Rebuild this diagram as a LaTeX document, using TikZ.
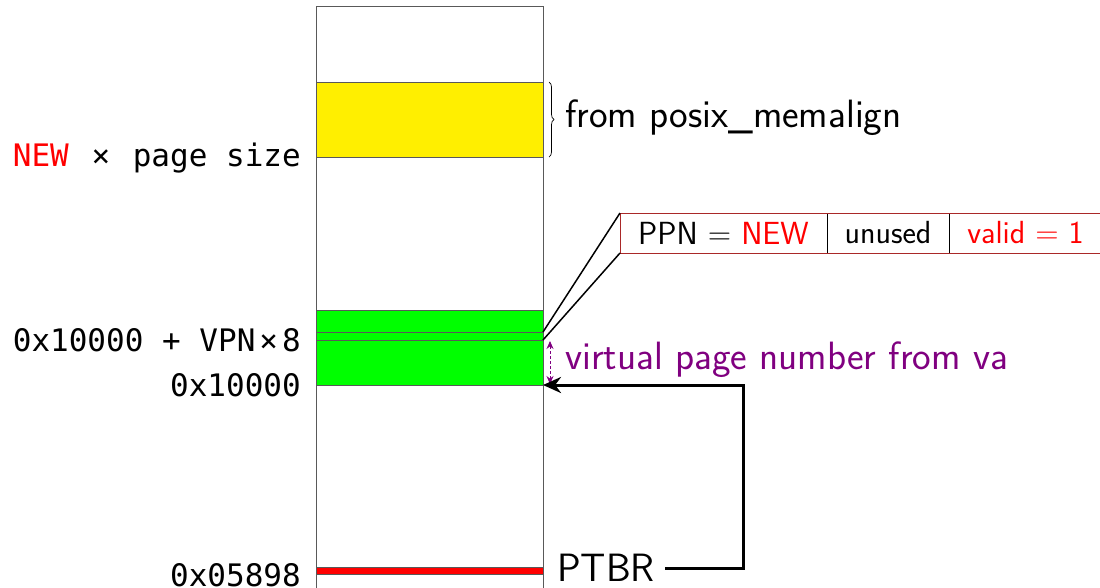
\documentclass[tikz,border=0pt]{standalone}
\usepackage{fontspec}
\setmonofont{DejaVu Sans Mono}
\usetikzlibrary{decorations.pathreplacing,arrows.meta}
\definecolor{heapyellow}{RGB}{255,239,0}
\definecolor{ptgreen}{RGB}{0,255,0}
\definecolor{vpurple}{RGB}{128,0,128}
\definecolor{pteborder}{RGB}{170,40,40}
\newcommand{\mtimes}{\kern4pt×\kern4pt}
\begin{document}
\begin{tikzpicture}[x=1pt,y=-1pt,
  memline/.style={draw=black!65, line width=0.9pt},
  region/.style={draw=black!65, line width=0.9pt, inner sep=0pt, outer sep=0pt,
                 minimum width=227pt, anchor=north west},
  addr/.style={anchor=base east, inner sep=0pt, font=\fontsize{31}{31}\selectfont\ttfamily},
  bigsans/.style={inner sep=0pt, font=\fontsize{39.5}{39.5}\selectfont\sffamily},
  cell/.style={draw=black, line width=0.9pt, inner sep=0pt, outer sep=0pt,
               minimum height=40pt, anchor=north west,
               font=\fontsize{32}{32}\selectfont\sffamily},
  ptr/.style={line width=3pt, -{Stealth[length=18pt,width=16pt]}}]
\useasboundingbox (0,0) rectangle (1100,587);

% memory column
\draw[memline] (316,600) -- (316,6) -- (543,6) -- (543,600);

% allocated page
\node[region, fill=heapyellow, minimum height=75pt] (heap) at (316,82) {};
% page table and the selected entry
\node[region, fill=ptgreen, minimum height=75pt] (table) at (316,310) {};
\node[region, minimum height=8pt] (pte) at (316,332) {};
% PTBR target
\node[region, fill=red, minimum height=7pt] (base) at (316,567) {};

% address labels
\node[addr] (lnew) at (301,166) {\textcolor{red}{NEW} \mtimes{} page size};
\node[addr] (lpte) at (301,351) {0x10000 + VPN\mtimes{}8};
\node[addr] (ltab) at (301,396) {0x10000};
\node[addr] (lbase) at (301,586) {0x05898};

% brace for the allocation
\draw[decorate, decoration={brace, amplitude=5pt}, line width=0.7pt]
  (549,82) -- (549,157);
\node[bigsans, anchor=west] (posix) at (565,118) {from posix\_memalign};

% page table entry fields
\node[cell, minimum width=207pt] (ppn) at (620,213) {PPN = \textcolor{red}{NEW}};
\node[cell, minimum width=122pt] (unused) at (827,213) {unused};
\node[cell, minimum width=153pt, text=red] (valid) at (949,213) {valid = 1};
\draw[draw=pteborder, line width=1pt] (ppn.north west) rectangle (valid.south east);
\draw[line width=1.5pt] (pte.north east) -- (ppn.north west);
\draw[line width=1.5pt] (pte.south east) -- (ppn.south west);

% VPN offset
\coordinate (vtop) at (550,341);
\coordinate (vbot) at (550,384);
\draw[vpurple, line width=0.9pt, dash pattern=on 3pt off 2pt,
      {Stealth[length=8pt,width=7pt]}-{Stealth[length=8pt,width=7pt]}]
  (vtop) -- (vbot);
\node[bigsans, anchor=west, text=vpurple] (vpn) at (565,360) {virtual page number from va};

% PTBR pointer
\node[bigsans, anchor=west] (ptbr) at (557,568) {PTBR};
\coordinate (turn) at (743,385);
\draw[ptr, shorten <=10pt] (ptbr.east) -| (turn) -- (table.south east);
\end{tikzpicture}
\end{document}
